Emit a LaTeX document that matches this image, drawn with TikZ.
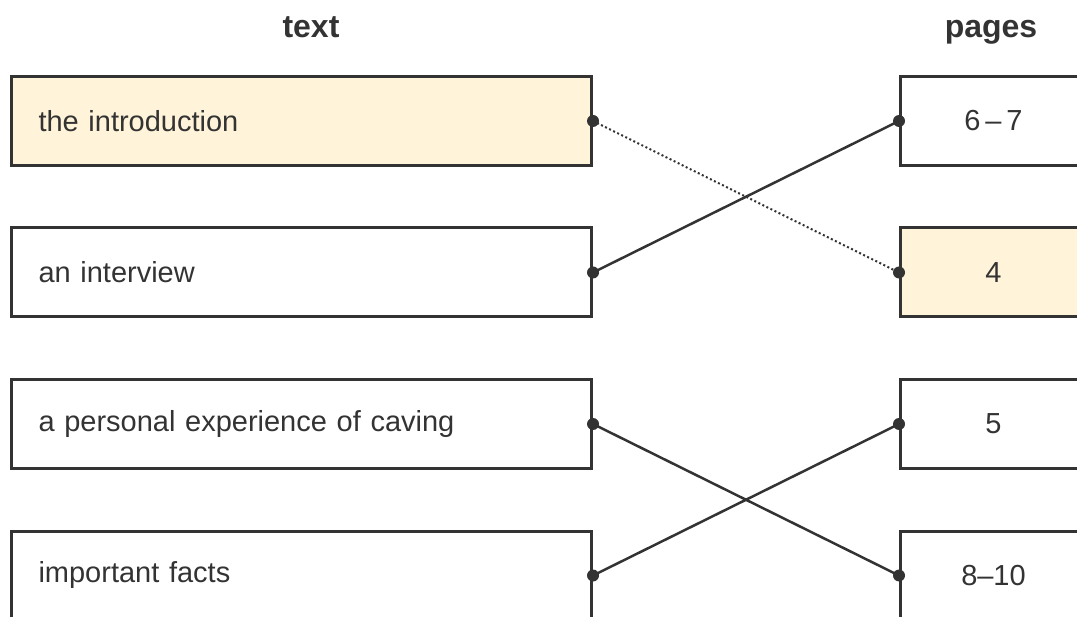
\documentclass[tikz,border=0pt]{standalone}
\usepackage{fontspec}
\setmainfont{Liberation Sans}
\usetikzlibrary{positioning}
\definecolor{inkgray}{HTML}{333333}
\definecolor{cream}{HTML}{FFF3D9}

\begin{document}
\begin{tikzpicture}[x=1pt,y=-1pt]

\tikzset{textbox/.style = {shape=rectangle,draw=inkgray,line width=3pt,minimum width=580pt,minimum height=89pt,
  text width=526pt,align=left,inner xsep=27pt,anchor=west,font=\fontsize{29}{34}\selectfont,text=inkgray}}
\tikzset{pagebox/.style = {shape=rectangle,draw=inkgray,line width=3pt,minimum width=186pt,minimum height=89pt,
  anchor=west,font=\fontsize{29}{34}\selectfont,text=inkgray}}
\tikzset{title/.style = {anchor=base,font=\fontsize{32}{38}\selectfont\bfseries,text=inkgray}}
\tikzset{edge/.style = {draw=inkgray,line width=2.5pt}}
\tikzset{hint/.style = {draw=inkgray,line width=2pt,dash pattern=on 2pt off 2.5pt}}
\tikzset{dot/.style = {fill=inkgray}}

\useasboundingbox (0,0) rectangle (1077,617);
\clip (0,0) rectangle (1077,617);

%headings
\node[title] (ht) at (311,38) {text};
\node[title] (hp) at (991,38) {pages};

%text boxes
\node[textbox, fill=cream] (t1) at (10,121) {the introduction};
\node[textbox] (t2) at (10,272.5) {an interview};
\node[textbox] (t3) at (10,424) {a personal experience of caving};
\node[textbox] (t4) at (10,575.5) {important facts};

%page boxes
\node[pagebox] (p1) at (899,121) {6\,–\,7};
\node[pagebox, fill=cream] (p2) at (899,272.5) {4};
\node[pagebox] (p3) at (899,424) {5};
\node[pagebox] (p4) at (899,575.5) {8–10};

%links
\draw[hint] (t1.east) -- (p2.west);
\draw[edge] (t2.east) -- (p1.west);
\draw[edge] (t3.east) -- (p4.west);
\draw[edge] (t4.east) -- (p3.west);

\foreach \n in {t1,t2,t3,t4}
  \fill[dot] (\n.east) circle (6);
\foreach \n in {p1,p2,p3,p4}
  \fill[dot] (\n.west) circle (6);

\end{tikzpicture}
\end{document}
